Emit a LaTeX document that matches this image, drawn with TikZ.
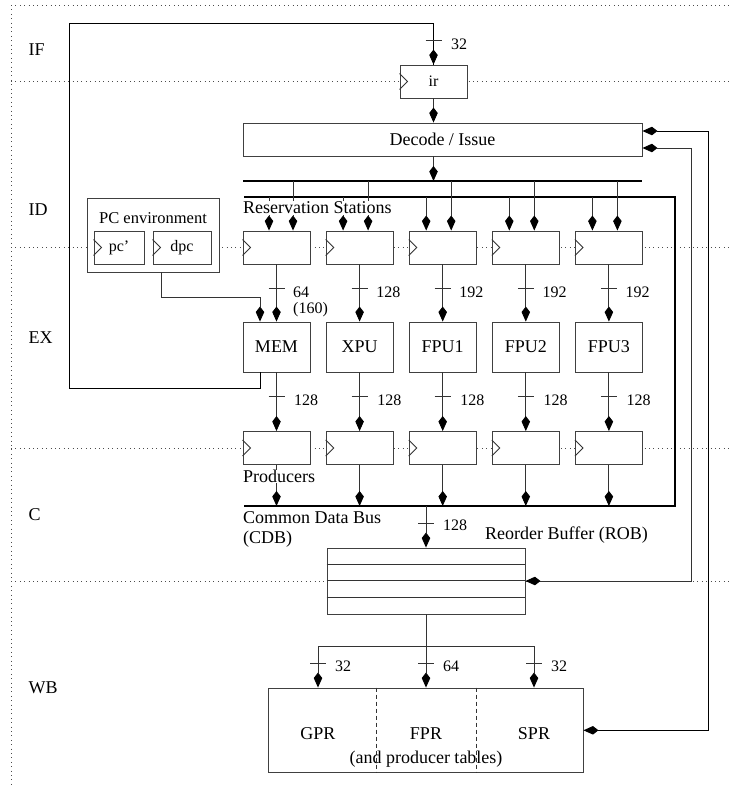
\documentclass[tikz,border=0pt]{standalone}
\usepackage{fontspec}
\setmainfont{Liberation Serif}
\usetikzlibrary{arrows.meta,calc}
\begin{document}
\begin{tikzpicture}[x=1pt,y=-1pt,
  font=\fontsize{18}{21}\selectfont,
  box/.style={draw=black!75, line width=0.9pt, fill=white, inner sep=0pt},
  regbox/.style={box, minimum width=67pt, minimum height=33pt, font=\fontsize{16}{18}\selectfont},
  unitbox/.style={box, minimum width=67pt, minimum height=50pt},
  conn/.style={draw=black!80, line width=0.9pt},
  arr/.style={conn, -{Kite[length=15pt,width=8.5pt,inset=5.5pt,black]}},
  darr/.style={conn, {Kite[length=15pt,width=8.5pt,inset=5.5pt,black]}-{Kite[length=15pt,width=8.5pt,inset=5.5pt,black]}},
  bus/.style={draw=black, line width=1.8pt},
  sep/.style={draw=black!70, line width=0.8pt, dash pattern=on 0.8pt off 3.6pt},
  num/.style={font=\fontsize{16}{18}\selectfont, anchor=west, inner sep=0pt},
  lbl/.style={anchor=west, inner sep=0.5pt},
]
\useasboundingbox (0,0) rectangle (730,785);

% stage separators
\draw[sep] (11,5) -- (730,5);
\draw[sep] (11,5) -- (11,785);
\draw[sep] (11,81.5) -- (730,81.5);
\draw[sep] (11,247.5) -- (730,247.5);
\draw[sep] (11,448) -- (730,448);
\draw[sep] (11,581) -- (730,581);

% stage labels
\node[lbl] (sIF) at (28,50) {IF};
\node[lbl] (sID) at (28,210) {ID};
\node[lbl] (sEX) at (28,338) {EX};
\node[lbl] (sC)  at (28,515) {C};
\node[lbl] (sWB) at (28,688) {WB};

% boxes
\node[regbox] (ir) at (433.5,81.5) {ir};
\node[box, minimum width=399pt, minimum height=33pt] (dec) at (442.5,139.5) {Decode / Issue};

\node[box, minimum width=132pt, minimum height=74pt] (pcenv) at (153,235) {};
\node[font=\fontsize{16.5}{19}\selectfont, inner sep=0pt] (pctext) at (153,218) {PC environment};
\node[regbox, minimum width=50pt] (pc) at (119,247.5) {pc'};
\node[regbox, minimum width=58pt] (dpc) at (182,247.5) {dpc};

\foreach \i/\x/\u in {1/276.5/MEM,2/359.6/XPU,3/442.7/FPU1,4/525.8/FPU2,5/608.9/FPU3}{
  \node[regbox] (rs\i) at (\x,247.5) {};
  \node[unitbox] (u\i) at (\x,347) {\u};
  \node[regbox] (pr\i) at (\x,448) {};
}

\node[box, minimum width=198pt, minimum height=66pt] (rob) at (426,581) {};
\draw[conn] ($(rob.north west)+(0,16.5)$) -- ($(rob.north east)+(0,16.5)$);
\draw[conn] ($(rob.north west)+(0,33)$) -- ($(rob.north east)+(0,33)$);
\draw[conn] ($(rob.north west)+(0,49.5)$) -- ($(rob.north east)+(0,49.5)$);

\node[box, minimum width=314.4pt, minimum height=84.6pt] (regs) at (425.8,730.3) {};
\draw[conn, dash pattern=on 4pt off 3pt] ([xshift=-49.8pt]regs.north) -- ([xshift=-49.8pt]regs.south);
\draw[conn, dash pattern=on 4pt off 3pt] ([xshift=50.2pt]regs.north) -- ([xshift=50.2pt]regs.south);
\node (gpr) at (318,733.7) {GPR};
\node (fpr) at (426,733.7) {FPR};
\node (spr) at (534,733.7) {SPR};
\node (ptab) at (426,759) {(and producer tables)};

% clock triangles
\foreach \b in {ir,pc,dpc,rs1,rs2,rs3,rs4,rs5,pr1,pr2,pr3,pr4,pr5}{
  \draw[conn] ([yshift=8pt]\b.west) -- ([xshift=8pt]\b.west) -- ([yshift=-8pt]\b.west);
}

% buses
\coordinate (tb1) at (243,181);
\coordinate (tb2) at (642,181);
\draw[bus] (tb1) -- (tb2);
\coordinate (lp1) at (244,197);
\coordinate (lp2) at (675,197);
\coordinate (lp3) at (675,506);
\coordinate (lp4) at (244,506);
\draw[bus] (lp1) -- (lp2) -- (lp3) -- (lp4);

% fetch feedback
\coordinate (fb1) at (69,388);
\coordinate (fb2) at (69,23);
\draw[conn, draw=black] ([xshift=-16.5pt]u1.south) |- (fb1) -- (fb2) -| (ir.north);
\draw[arr, draw=black] ($(ir.north)+(0,-20)$) -- (ir.north);
\draw[conn] (425.5,40) -- (441.5,40);
\node[num] (n32a) at (451,44) {32};

% ir -> decode -> bus
\draw[arr] (ir.south) -- (ir.south |- dec.north);
\draw[arr] (ir.south |- dec.south) -- (ir.south |- tb1);

% reservation station inputs
\draw[arr] ([xshift=-7.5pt]rs1.north |- lp1) -- ([xshift=-7.5pt]rs1.north);
\draw[arr] ([xshift=16.5pt]rs1.north |- tb1) -- ([xshift=16.5pt]rs1.north);
\foreach \i in {2,3,4,5}{
  \draw[arr] ([xshift=-16.5pt]rs\i.north |- lp1) -- ([xshift=-16.5pt]rs\i.north);
  \draw[arr] ([xshift=8.5pt]rs\i.north |- tb1) -- ([xshift=8.5pt]rs\i.north);
}

% RS -> units -> producers -> CDB
\foreach \i/\x/\w in {1/276.5/64,2/359.6/128,3/442.7/192,4/525.8/192,5/608.9/192}{
  \draw[arr] (rs\i) -- (u\i);
  \draw[conn] ({\x-8},288) -- ({\x+8},288);
  \node[num] (w\i) at ({\x+16.5},292) {\w};
  \draw[arr] (u\i) -- (pr\i);
  \draw[conn] ({\x-8},396.5) -- ({\x+8},396.5);
  \node[num] (v\i) at ({\x+17.5},400.5) {128};
  \draw[arr] (pr\i) -- (pr\i |- lp4);
}
\node[num] (w1b) at (293,309.5) {(160)};

% PC environment -> MEM
\coordinate (pcb) at (161,297);
\draw[arr] ([xshift=8pt]pcenv.south) -- (pcb) -| ([xshift=-16.5pt]u1.north);

% labels over lines
\node[lbl, fill=white] (rslbl) at (242.5,208) {Reservation Stations};
\node[lbl, fill=white] (prodlbl) at (242.5,476.5) {Producers};
\node[lbl] (cdblbl) at (242.5,518) {Common Data Bus};
\node[lbl] (cdblbl2) at (242.5,539) {(CDB)};
\node[lbl] (roblbl) at (484.5,535) {Reorder Buffer (ROB)};

% CDB -> ROB
\draw[arr] (rob.north |- lp4) -- (rob.north);
\draw[conn] (418,523) -- (434,523);
\node[num] (n128c) at (443,525.5) {128};

% ROB -> register files
\coordinate (g1) at (318,646);
\coordinate (g2) at (426,646);
\coordinate (g3) at (534,646);
\draw[conn] (rob.south) -- (g2);
\draw[conn] (g1) -- (g3);
\foreach \g/\w in {g1/32,g2/64,g3/32}{
  \draw[arr] (\g) -- (\g |- regs.north);
  \draw[conn] ($(\g)+(-8,17)$) -- ($(\g)+(8,17)$);
  \node[num] at ($(\g)+(17,20)$) {\w};
}

% feedback into decode
\draw[darr, draw=black] ([yshift=8.5pt]dec.east) -- ++(66,0) |- (regs.east);
\draw[darr] ([yshift=-8.5pt]dec.east) -- ++(49,0) |- (rob.east);
\end{tikzpicture}
\end{document}
